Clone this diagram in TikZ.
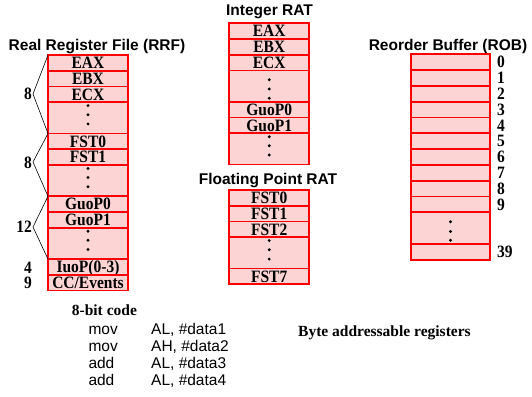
\documentclass[tikz,border=0pt]{standalone}
\usepackage{fontspec}
\setmainfont{Liberation Serif}
\newfontfamily\arialfont{Liberation Sans}
\definecolor{cellpink}{RGB}{252,212,212}
\newcommand\vs[1]{\scalebox{1}[1.12]{#1}}
\begin{document}
\begin{tikzpicture}[x=1pt,y=-1pt,
  cell/.style={draw=red, fill=cellpink, line width=1.7pt, minimum width=80pt,
    minimum height=15.7pt, inner sep=0pt, outer sep=0pt, anchor=north,
    text height=11.5pt, text depth=0pt,
    font=\fontsize{15.5}{16}\selectfont\bfseries},
  dotrow/.style={cell, minimum height=31.4pt},
  robcell/.style={cell, minimum width=79pt, minimum height=15.8pt},
  robdots/.style={cell, minimum width=79pt, minimum height=31.6pt},
  head/.style={font=\arialfont\bfseries\fontsize{15.5}{16}\selectfont, inner sep=0pt, anchor=base},
  num/.style={font=\bfseries\fontsize{15.5}{16}\selectfont, inner sep=0pt},
  code/.style={font=\arialfont\fontsize{15.5}{16}\selectfont, inner sep=0pt, anchor=base west},
  serif/.style={font=\bfseries\fontsize{15.5}{16}\selectfont, inner sep=0pt, anchor=base west},
  bracket/.style={line width=0.6pt, black}
]
\useasboundingbox (0,0) rectangle (532,396);

% ---------- Real Register File ----------
\node[head] (hrrf) at (97,50.5) {Real Register File (RRF)};
\node[cell] (rA) at (88,55) {\vs{EAX}};
\node[cell] (rB) at (rA.south) {\vs{EBX}};
\node[cell] (rC) at (rB.south) {\vs{ECX}};
\node[dotrow] (rD1) at (rC.south) {};
\node[cell] (rF0) at (rD1.south) {\vs{FST0}};
\node[cell] (rF1) at (rF0.south) {\vs{FST1}};
\node[dotrow] (rD2) at (rF1.south) {};
\node[cell] (rG0) at (rD2.south) {\vs{GuoP0}};
\node[cell] (rG1) at (rG0.south) {\vs{GuoP1}};
\node[dotrow] (rD3) at (rG1.south) {};
\node[cell] (rI) at (rD3.south) {\vs{IuoP(0-3)}};
\node[cell] (rCC) at (rI.south) {\vs{CC/Events}};
\foreach \r in {rD1,rD2,rD3}
  \foreach \d in {3.5,12.6,21.8}
    \fill ([yshift=-\d pt]\r.north) circle (1.6pt);

% brackets
\coordinate (b1) at (33,94);
\coordinate (b2) at (33,162);
\coordinate (b3) at (33,227);
\draw[bracket] (rA.north west) -- (b1) -- (rF0.north west);
\draw[bracket] (rF0.north west) -- (b2) -- (rG0.north west);
\draw[bracket] (rG0.north west) -- (b3) -- (rI.north west);
\node[num, anchor=east] (n1) at (32,94) {\vs{8}};
\node[num, anchor=east] (n2) at (32,162.5) {\vs{8}};
\node[num, anchor=east] (n3) at (32,226.7) {\vs{12}};
\node[num, anchor=east] (n4) at (32,267.3) {\vs{4}};
\node[num, anchor=east] (n5) at (32,283.3) {\vs{9}};

% ---------- Integer RAT ----------
\node[head] (hint) at (269.5,16) {Integer RAT};
\node[cell] (iA) at (269.2,23.3) {\vs{EAX}};
\node[cell] (iB) at (iA.south) {\vs{EBX}};
\node[cell] (iC) at (iB.south) {\vs{ECX}};
\node[dotrow] (iD1) at (iC.south) {};
\node[cell] (iG0) at (iD1.south) {\vs{GuoP0}};
\node[cell] (iG1) at (iG0.south) {\vs{GuoP1}};
\node[dotrow] (iD2) at (iG1.south) {};
\foreach \d in {9.3,18.6,27.8}
  \fill ([yshift=-\d pt]iD1.north) circle (1.6pt);
\foreach \d in {3.5,12.6,21.8}
  \fill ([yshift=-\d pt]iD2.north) circle (1.6pt);

% ---------- Floating Point RAT ----------
\node[head] (hfp) at (268,184) {Floating Point RAT};
\node[cell] (f0) at (269.2,190) {\vs{FST0}};
\node[cell] (f1) at (f0.south) {\vs{FST1}};
\node[cell] (f2) at (f1.south) {\vs{FST2}};
\node[dotrow] (fD) at (f2.south) {};
\node[cell] (f7) at (fD.south) {\vs{FST7}};
\foreach \d in {3.5,12.6,22}
  \fill ([yshift=-\d pt]fD.north) circle (1.6pt);

% ---------- Reorder Buffer ----------
\node[head] (hrob) at (448,50.5) {Reorder Buffer (ROB)};
\node[robcell] (o0) at (450.5,54.3) {};
\foreach \i [evaluate=\i as \p using int(\i-1)] in {1,...,9}
  \node[robcell] (o\i) at (o\p.south) {};
\node[robdots] (oD) at (o9.south) {};
\node[robcell] (o39) at (oD.south) {};
\foreach \d in {9.4,19.2,28}
  \fill ([yshift=-\d pt]oD.north) circle (1.6pt);
\foreach \i in {0,...,9}
  \node[num, anchor=west] (l\i) at ([xshift=7pt]o\i.east) {\vs{\i}};
\node[num, anchor=west] (l39) at ([xshift=7pt]o39.east) {\vs{39}};

% ---------- Code ----------
\node[serif] (c0) at (71.7,315) {8-bit code};
\node[code] (m1) at (88.3,334.5) {mov};
\node[code] (a1) at (151,334.5) {AL, \#data1};
\node[code] (m2) at (88.3,351.5) {mov};
\node[code] (a2) at (151,351.5) {AH, \#data2};
\node[code] (m3) at (88.3,368.5) {add};
\node[code] (a3) at (151,368.5) {AL, \#data3};
\node[code] (m4) at (88.3,385.5) {add};
\node[code] (a4) at (151,385.5) {AL, \#data4};
\node[serif] (byte) at (298,336.5) {Byte addressable registers};
\end{tikzpicture}
\end{document}
